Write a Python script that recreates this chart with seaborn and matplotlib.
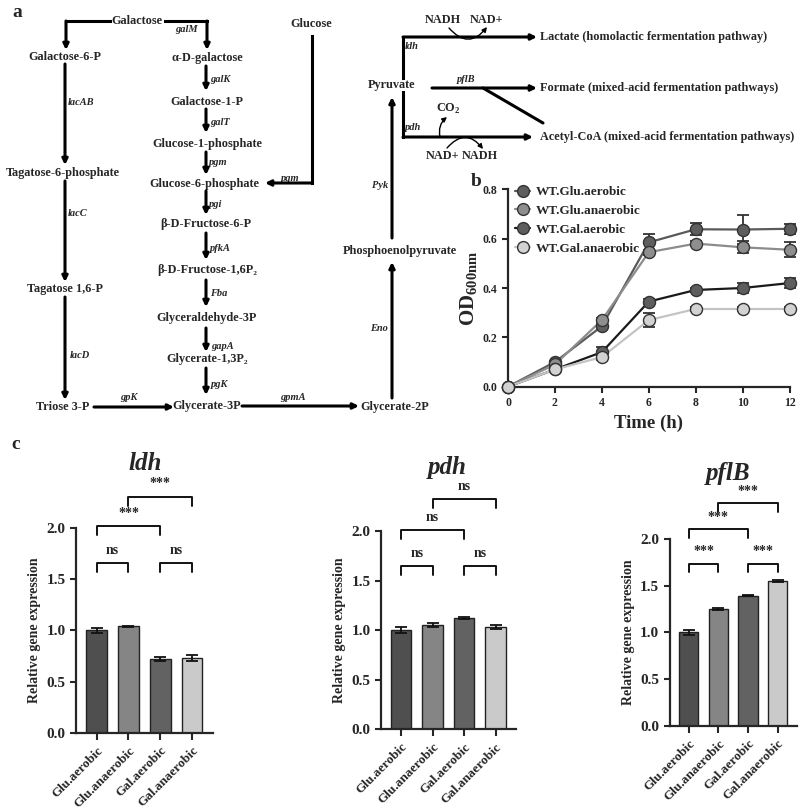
import matplotlib
matplotlib.use('Agg')
import matplotlib.pyplot as plt
import numpy as np
import pandas as pd
import seaborn as sns

# ---- data ----
time_h = [0, 2, 4, 6, 8, 10, 12]
strains = ['WT.Glu.aerobic', 'WT.Glu.anaerobic', 'WT.Gal.aerobic', 'WT.Gal.anaerobic']
od_glu_aer = [0.0, 0.10, 0.245, 0.585, 0.638, 0.637, 0.640]
od_glu_ana = [0.0, 0.09, 0.270, 0.545, 0.580, 0.565, 0.555]
od_gal_aer = [0.0, 0.07, 0.140, 0.345, 0.392, 0.400, 0.420]
od_gal_ana = [0.0, 0.07, 0.120, 0.270, 0.315, 0.315, 0.315]
err_glu_aer = [0, 0.005, 0.01, 0.032, 0.025, 0.058, 0.02]
err_glu_ana = [0, 0.005, 0.01, 0.01, 0.01, 0.025, 0.03]
err_gal_aer = [0, 0.005, 0.02, 0.01, 0.01, 0.02, 0.02]
err_gal_ana = [0, 0.005, 0.01, 0.028, 0.01, 0.01, 0.01]

conditions = ['Glu.aerobic', 'Glu.anaerobic', 'Gal.aerobic', 'Gal.anaerobic']
genes = ['ldh', 'pdh', 'pflB']
expr_ldh = [1.00, 1.04, 0.72, 0.73]
expr_pdh = [1.00, 1.05, 1.12, 1.03]
expr_pflb = [1.00, 1.25, 1.39, 1.55]
sd_ldh = [0.02, 0.005, 0.02, 0.03]
sd_pdh = [0.03, 0.02, 0.01, 0.02]
sd_pflb = [0.025, 0.01, 0.005, 0.01]
# significance brackets: (i, j, label, height)
sig_ldh = [(0, 1, 'ns', 1.66), (2, 3, 'ns', 1.66), (0, 2, '***', 2.02), (1, 3, '***', 2.31)]
sig_pdh = [(0, 1, 'ns', 1.65), (2, 3, 'ns', 1.65), (0, 2, 'ns', 2.01), (1, 3, 'ns', 2.32)]
sig_pflb = [(0, 1, '***', 1.73), (2, 3, '***', 1.73), (0, 2, '***', 2.10), (1, 3, '***', 2.38)]

# pathway diagram (pixel layout)
nodes = [
    ("Galactose", 137, 21), ("Galactose-6-P", 65, 57), ("α-D-galactose", 207, 58),
    ("Galactose-1-P", 207, 102), ("Glucose-1-phosphate", 207, 144),
    ("Glucose-6-phosphate", 204, 184), ("Glucose", 311, 24),
    ("β-D-Fructose-6-P", 206, 224), ("β-D-Fructose-1,6P₂", 207, 270),
    ("Glyceraldehyde-3P", 207, 318), ("Glycerate-1,3P₂", 207, 359),
    ("Tagatose-6-phosphate", 63, 173), ("Tagatose 1,6-P", 65, 289),
    ("Triose 3-P", 63, 407), ("Glycerate-3P", 207, 406), ("Glycerate-2P", 395, 407),
    ("Phosphoenolpyruvate", 400, 251), ("Pyruvate", 392, 85),
    ("NADH", 443, 20), ("NAD+", 487, 20), ("NAD+", 443, 156), ("NADH", 480, 156),
]
products = [
    ("Lactate (homolactic fermentation pathway)", 540, 37),
    ("Formate (mixed-acid fermentation pathways)", 540, 88),
    ("Acetyl-CoA (mixed-acid fermentation pathways)", 540, 137),
]
enzymes = [
    ("galM", 175, 29), ("galK", 210, 79), ("galT", 210, 122), ("pgm", 209, 162),
    ("pgm", 281, 178), ("pgi", 209, 204), ("pfkA", 210, 248), ("Fba", 210, 293),
    ("gapA", 211, 346), ("pgK", 211, 384), ("lacAB", 68, 102), ("lacC", 68, 213),
    ("lacD", 70, 355), ("gpK", 120, 397), ("gpmA", 280, 397), ("Pyk", 372, 185),
    ("Eno", 370, 328), ("ldh", 405, 46), ("pflB", 457, 79), ("pdh", 405, 127),
]
arrows = [
    [(206, 66), (206, 91)], [(206, 109), (206, 133)], [(206, 152), (206, 175)],
    [(206, 191), (206, 215)], [(206, 233), (206, 260)], [(206, 280), (206, 307)],
    [(206, 328), (206, 352)], [(206, 368), (206, 395)],
    [(65, 64), (65, 165)], [(65, 181), (65, 282)], [(65, 297), (65, 400)],
    [(94, 407), (174, 407)], [(242, 406), (359, 406)],
    [(392, 398), (392, 262)], [(392, 238), (392, 97)],
    [(110, 21), (66, 21), (66, 50)], [(165, 21), (207, 21), (207, 50)],
    [(312, 36), (312, 183), (265, 183)],
    [(403, 78), (403, 37), (537, 37)], [(432, 88), (537, 88)],
    [(403, 92), (403, 137), (533, 137)],
]

sns.set_style('ticks')
plt.rcParams['font.family'] = ['Liberation Serif', 'DejaVu Serif']
plt.rcParams['font.weight'] = 'bold'
plt.rcParams['axes.labelweight'] = 'bold'
plt.rcParams['mathtext.fontset'] = 'custom'
plt.rcParams['mathtext.bf'] = 'Liberation Serif:bold'
plt.rcParams['mathtext.rm'] = 'Liberation Serif:bold'

fig = plt.figure(figsize=(8, 8.09), dpi=100)

# ---- panel a: diagram ----
axd = fig.add_axes([0, 0, 1, 1])
axd.set_xlim(0, 800)
axd.set_ylim(809, 0)
axd.axis('off')
for txt, x, y in nodes:
    axd.text(x, y, txt, ha='center', va='center', fontsize=8.8, fontweight='bold')
for txt, x, y in products:
    axd.text(x, y, txt, ha='left', va='center', fontsize=8.8, fontweight='bold')
for txt, x, y in enzymes:
    axd.text(x, y, txt, ha='left', va='center', fontsize=7.5, fontweight='bold', style='italic')
axd.text(448, 109, 'CO$_2$', ha='center', va='center', fontsize=8.8, fontweight='bold')
for pts in arrows:
    xs = [p[0] for p in pts]
    ys = [p[1] for p in pts]
    if len(pts) > 2:
        axd.plot(xs[:-1], ys[:-1], color='k', lw=2.2, solid_capstyle='projecting')
    axd.annotate('', xy=pts[-1], xytext=pts[-2],
                 arrowprops=dict(arrowstyle='-|>', color='k', lw=2.2, mutation_scale=8,
                                 shrinkA=0, shrinkB=0))
axd.plot([483, 543], [88, 123], color='k', lw=2.2)
axd.annotate('', xy=(487, 27), xytext=(449, 28),
             arrowprops=dict(arrowstyle='-|>', color='k', lw=1, mutation_scale=7,
                             shrinkA=0, shrinkB=0, connectionstyle='arc3,rad=0.6'))
axd.annotate('', xy=(483, 149), xytext=(447, 148),
             arrowprops=dict(arrowstyle='-|>', color='k', lw=1, mutation_scale=7,
                             shrinkA=0, shrinkB=0, connectionstyle='arc3,rad=-0.6'))
axd.annotate('', xy=(447, 117), xytext=(440, 137),
             arrowprops=dict(arrowstyle='-|>', color='k', lw=1, mutation_scale=7,
                             shrinkA=0, shrinkB=0, connectionstyle='arc3,rad=-0.3'))
axd.text(12, 12, 'a', fontsize=14, fontweight='bold', va='center')
axd.text(471, 181, 'b', fontsize=14, fontweight='bold', va='center')
axd.text(11, 444, 'c', fontsize=14, fontweight='bold', va='center')

# ---- panel b: growth ----
axb = fig.add_axes([0.635, 0.522, 0.352, 0.244])
axb.patch.set_alpha(0)
df = pd.DataFrame({
    'time': time_h * 4,
    'od': od_glu_aer + od_glu_ana + od_gal_aer + od_gal_ana,
    'strain': np.repeat(strains, len(time_h)),
})
line_cols = ['#5a5a5a', '#8c8c8c', '#1a1a1a', '#c4c4c4']
face_cols = ['#5e5e5e', '#8e8e8e', '#5e5e5e', '#d2d2d2']
errs = [err_glu_aer, err_glu_ana, err_gal_aer, err_gal_ana]
for s, e in zip(strains, errs):
    sub = df[df['strain'] == s]
    axb.errorbar(sub['time'], sub['od'], yerr=e, fmt='none', ecolor='#333333',
                 elinewidth=1.3, capsize=4, capthick=1.3, zorder=2, clip_on=False)
sns.lineplot(data=df, x='time', y='od', hue='strain', palette=dict(zip(strains, line_cols)),
             lw=1.6, ax=axb, legend=False, zorder=3)
for s, fc in zip(strains, face_cols):
    sub = df[df['strain'] == s]
    axb.scatter(sub['time'], sub['od'], s=75, color=fc, edgecolor='#333333', linewidth=1,
                zorder=4, clip_on=False, label=s)
handles = [plt.Line2D([], [], color=lc, lw=1.6, marker='o', markersize=8.5,
                      markerfacecolor=fc, markeredgecolor='#333333')
           for lc, fc in zip(line_cols, face_cols)]
axb.legend(handles, strains, loc='upper left', bbox_to_anchor=(0.0, 1.05), frameon=False,
           prop={'weight': 'bold', 'size': 9.5}, handlelength=1.2, labelspacing=0.5,
           handletextpad=0.4, borderaxespad=0.1)
axb.set_xlim(0, 12)
axb.set_ylim(0, 0.8)
axb.set_xticks(time_h)
axb.set_yticks([0, 0.2, 0.4, 0.6, 0.8])
axb.set_yticklabels(['0.0', '0.2', '0.4', '0.6', '0.8'])
axb.tick_params(labelsize=8.5, width=1.5, length=4)
for lab in axb.get_xticklabels() + axb.get_yticklabels():
    lab.set_fontweight('bold')
axb.set_xlabel('Time (h)', fontsize=13.5, fontweight='bold')
axb.set_ylabel(r'$\mathbf{OD_{600nm}}$', fontsize=15, labelpad=3)
sns.despine(ax=axb)
for sp in ['left', 'bottom']:
    axb.spines[sp].set_linewidth(1.6)

# ---- panel c: expression ----
bar_cols = ['#4f4f4f', '#858585', '#626262', '#cacaca']
panels = [
    ('ldh', expr_ldh, sd_ldh, sig_ldh, [0.095, 0.0943, 0.171, 0.2527], (145, 463)),
    ('pdh', expr_pdh, sd_pdh, sig_pdh, [0.476, 0.0985, 0.169, 0.2451], (447, 467)),
    ('pflB', expr_pflb, sd_pflb, sig_pflb, [0.837, 0.1026, 0.159, 0.2315], (728, 473)),
]
for gene, vals, sds, sigs, pos, tpos in panels:
    ax = fig.add_axes(pos)
    ax.patch.set_alpha(0)
    sns.barplot(x=conditions, y=vals, hue=conditions, palette=bar_cols, legend=False,
                width=0.65, edgecolor='#222222', linewidth=1.0, ax=ax)
    ax.errorbar(range(4), vals, yerr=sds, fmt='none', ecolor='#111111', elinewidth=1.3,
                capsize=4, capthick=1.3)
    ax.set_xlim(-0.65, 3.65)
    ax.set_ylim(0, 2.0)
    ax.set_yticks([0, 0.5, 1.0, 1.5, 2.0])
    ax.set_yticklabels(['0.0', '0.5', '1.0', '1.5', '2.0'])
    ax.set_xticks(range(4))
    ax.set_xticklabels(conditions, rotation=45, ha='right', rotation_mode='anchor',
                       fontsize=9.5, fontweight='bold')
    ax.tick_params(axis='y', labelsize=11, width=1.5, length=4)
    ax.tick_params(axis='x', width=1.5, length=5)
    for lab in ax.get_yticklabels():
        lab.set_fontweight('bold')
    ax.set_ylabel('Relative gene expression', fontsize=10, fontweight='bold')
    sns.despine(ax=ax)
    for sp in ['left', 'bottom']:
        ax.spines[sp].set_linewidth(1.6)
    tick = 0.09
    for i, j, lab, h in sigs:
        ax.plot([i, i, j, j], [h - tick, h, h, h - tick], color='#111111', lw=1.4,
                clip_on=False)
        ax.text((i + j) / 2, h + 0.06, lab, ha='center', va='bottom', fontsize=10,
                fontweight='bold')
    axd.text(tpos[0], tpos[1], gene, ha='center', va='center', fontsize=18,
             fontweight='bold', style='italic')

fig.savefig('out.png', dpi=100)
